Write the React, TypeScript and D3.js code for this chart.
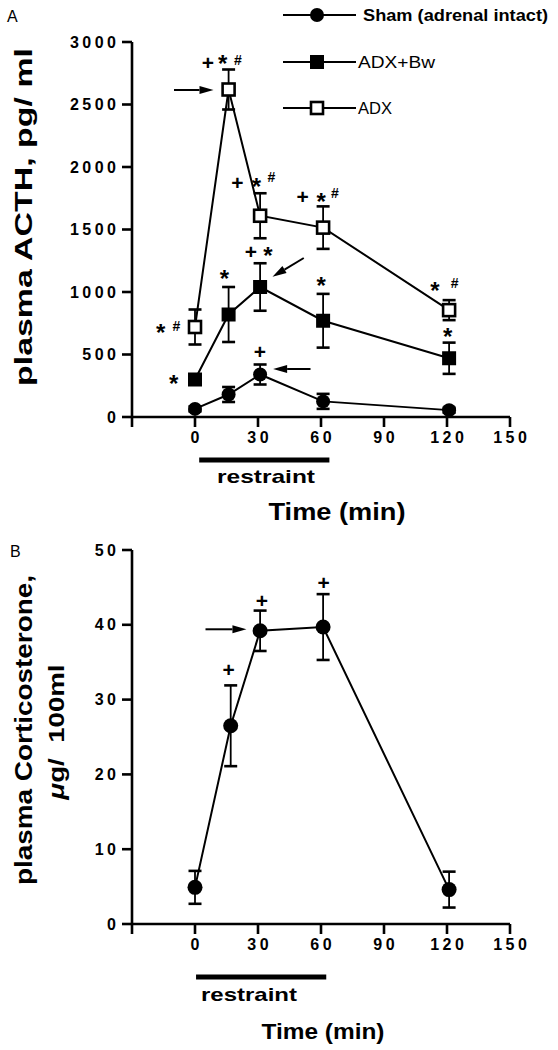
import React from "react";
import * as d3 from "d3";

// ---------- data ----------
const TIMES_A = [0, 16, 31, 61, 121];
const SHAM_A = [65, 180, 340, 125, 55];
const SHAM_A_ERR = [20, 60, 80, 60, 20];
const ADXBW_A = [300, 820, 1040, 770, 470];
const ADXBW_A_ERR = [30, 220, 190, 215, 125];
const ADX_A = [720, 2620, 1610, 1515, 855];
const ADX_A_ERR = [140, 160, 180, 170, 80];

const TIMES_B = [0, 17, 31, 61, 121];
const CORT_B = [4.9, 26.5, 39.2, 39.7, 4.6];
const CORT_B_ERR = [2.2, 5.4, 2.7, 4.4, 2.4];

const X_TICKS = [0, 30, 60, 90, 120, 150];
const Y_TICKS_A = [0, 500, 1000, 1500, 2000, 2500, 3000];
const Y_TICKS_B = [0, 10, 20, 30, 40, 50];
const RESTRAINT_A = [2, 64];
const RESTRAINT_B = [0.5, 62.5];

const LEGEND = ["Sham (adrenal intact)", "ADX+Bw", "ADX"];

// significance symbols (time, value, glyph)
const MARKS_A: [number, number, string][] = [
  [6.1, 2840, "+"], [13.2, 2872, "*"], [20.4, 2856, "#"],
  [20.2, 1880, "+"], [29.2, 1888, "*"], [36.4, 1920, "#"],
  [51.3, 1768, "+"], [60.1, 1768, "*"], [66.6, 1792, "#"],
  [114.2, 1056, "*"], [123.7, 1072, "#"],
  [-16.3, 720, "*"], [-8.9, 728, "#"],
  [14, 1152, "*"], [26.6, 1328, "+"], [34.7, 1336, "*"],
  [60.1, 1096, "*"], [120.3, 682, "*"], [-10.2, 312, "*"],
  [30.9, 522, "+"],
];
const ARROWS_A: [number, number, number, number][] = [
  [-10, 2616, 8.8, 2616],
  [51.8, 1272, 36.9, 1122],
  [55, 384, 37.2, 384],
];
const MARKS_B: [number, number, string][] = [
  [16, 34, "+"], [31.8, 43.3, "+"], [61.3, 45.7, "+"],
];
const ARROWS_B: [number, number, number, number][] = [[5, 39.4, 24.5, 39.4]];

// ---------- scales ----------
const xA = d3.scaleLinear().domain([-30, 150]).range([132, 510]);
const yA = d3.scaleLinear().domain([0, 3000]).range([417, 42]);
const xB = d3.scaleLinear().domain([-30, 150]).range([132, 510]);
const yB = d3.scaleLinear().domain([0, 50]).range([924, 550]);

const FONT = "'Liberation Sans', Arial, Helvetica, sans-serif";

function Arrow({ x1, y1, x2, y2 }: { x1: number; y1: number; x2: number; y2: number }) {
  const ang = Math.atan2(y2 - y1, x2 - x1);
  const L = 14, W = 4;
  const bx = x2 - L * Math.cos(ang), by = y2 - L * Math.sin(ang);
  const px = -Math.sin(ang) * W, py = Math.cos(ang) * W;
  return (
    <g>
      <line x1={x1} y1={y1} x2={bx} y2={by} stroke="#000" strokeWidth={2} />
      <path d={`M${x2},${y2}L${bx + px},${by + py}L${bx - px},${by - py}Z`} fill="#000" />
    </g>
  );
}

function Mark({ x, y, g }: { x: number; y: number; g: string }) {
  const size = g === "+" ? 21 : g === "*" ? 24 : 14;
  const dy = g === "*" ? 5 : 0;
  return (
    <text x={x} y={y + dy} textAnchor="middle" dominantBaseline="central"
      fontFamily={FONT} fontWeight="bold" fontSize={size}>{g}</text>
  );
}

function ErrBar({ x, y1, y2, cap }: { x: number; y1: number; y2: number; cap: number }) {
  return (
    <g stroke="#000">
      <line x1={x} x2={x} y1={y1} y2={y2} strokeWidth={1.8} />
      <line x1={x - cap / 2} x2={x + cap / 2} y1={y1} y2={y1} strokeWidth={2.6} />
      <line x1={x - cap / 2} x2={x + cap / 2} y1={y2} y2={y2} strokeWidth={2.6} />
    </g>
  );
}

function Axes({ x, y, yTicks }: any) {
  const [x0, x1] = x.range();
  const [yb, yt] = y.range();
  const sp = 3.5;
  return (
    <g fontFamily={FONT} fontWeight="bold">
      <line x1={x0} x2={x0} y1={yb + 1} y2={yt} stroke="#000" strokeWidth={2.6} />
      <line x1={x0 - 1} x2={x1} y1={yb} y2={yb} stroke="#000" strokeWidth={2.6} />
      {yTicks.map((t: number) => (
        <g key={"y" + t}>
          <line x1={x0 - 10} x2={x0} y1={y(t)} y2={y(t)} stroke="#000" strokeWidth={2.6} />
          <text x={x0 - 16 + sp} y={y(t)} textAnchor="end" dominantBaseline="central"
            fontSize={16} letterSpacing={sp}>{t}</text>
        </g>
      ))}
      {[-30, ...X_TICKS].map((t) => (
        <line key={"xt" + t} x1={x(t)} x2={x(t)} y1={yb} y2={yb + 10} stroke="#000" strokeWidth={2.6} />
      ))}
      {X_TICKS.map((t) => (
        <text key={"xl" + t} x={x(t) + sp / 2} y={yb + 26} textAnchor="middle"
          fontSize={16} letterSpacing={sp}>{t}</text>
      ))}
    </g>
  );
}

export default function App() {
  const lineA = (xs: number[], vs: number[]) =>
    d3.line<number>().x((_, i) => xA(xs[i])).y((v) => yA(v))(vs) as string;
  const lineB = d3.line<number>().x((_, i) => xB(TIMES_B[i])).y((v) => yB(v))(CORT_B) as string;

  const series = [
    { vals: ADX_A, err: ADX_A_ERR, kind: "open" },
    { vals: ADXBW_A, err: ADXBW_A_ERR, kind: "square" },
    { vals: SHAM_A, err: SHAM_A_ERR, kind: "circle" },
  ];

  const marker = (kind: string, cx: number, cy: number, key: string) => {
    if (kind === "circle") return <circle key={key} cx={cx} cy={cy} r={7} fill="#000" />;
    if (kind === "square") return <rect key={key} x={cx - 7} y={cy - 7} width={14} height={14} fill="#000" />;
    return <rect key={key} x={cx - 6} y={cy - 6} width={12} height={12} fill="#fff" stroke="#000" strokeWidth={2.6} />;
  };

  const legendY = [15, 62, 108];
  const legendKinds = ["circle", "square", "open"];
  const legendLen = [185, 77, 34];

  return (
    <svg width={558} height={1050} style={{ position: "absolute", left: 0, top: 0, background: "#fff" }}>
      <rect width={558} height={1050} fill="#fff" />
      {/* Panel A */}
      <text x={7} y={22} fontFamily={FONT} fontSize={16}>A</text>
      {LEGEND.map((name, i) => (
        <g key={name}>
          <line x1={283} x2={356} y1={legendY[i]} y2={legendY[i]} stroke="#000" strokeWidth={2} />
          {marker(legendKinds[i], 317, legendY[i], "lg" + i)}
          <text x={i === 0 ? 363 : 358} y={legendY[i]} dominantBaseline="central" fontFamily={FONT}
            fontSize={16} fontWeight={i === 0 ? "bold" : "normal"} textLength={legendLen[i]}
            lengthAdjust="spacingAndGlyphs">{name}</text>
        </g>
      ))}
      <Axes x={xA} y={yA} yTicks={Y_TICKS_A} />
      <text transform={`translate(32,217) rotate(-90)`} textAnchor="middle" fontFamily={FONT}
        fontWeight="bold" fontSize={24} textLength={338} lengthAdjust="spacingAndGlyphs">plasma ACTH, pg/ ml</text>

      {series.map((s, si) => (
        <g key={"s" + si}>
          {s.vals.map((v, i) => (
            <ErrBar key={i} x={xA(TIMES_A[i])} y1={yA(v + s.err[i])} y2={yA(v - s.err[i])} cap={13} />
          ))}
          <path d={lineA(TIMES_A, s.vals)} fill="none" stroke="#000" strokeWidth={2} />
          {s.vals.map((v, i) => marker(s.kind, xA(TIMES_A[i]), yA(v), "m" + si + i))}
        </g>
      ))}
      {MARKS_A.map(([t, v, g], i) => <Mark key={"ma" + i} x={xA(t)} y={yA(v)} g={g} />)}
      {ARROWS_A.map(([t1, v1, t2, v2], i) => (
        <Arrow key={"aa" + i} x1={xA(t1)} y1={yA(v1)} x2={xA(t2)} y2={yA(v2)} />
      ))}
      <rect x={xA(RESTRAINT_A[0])} width={xA(RESTRAINT_A[1]) - xA(RESTRAINT_A[0])} y={457.5} height={5} fill="#000" />
      <text x={266} y={483} textAnchor="middle" fontFamily={FONT} fontWeight="bold" fontSize={19}
        textLength={98} lengthAdjust="spacingAndGlyphs">restraint</text>
      <text x={337} y={520} textAnchor="middle" fontFamily={FONT} fontWeight="bold" fontSize={24}
        textLength={137} lengthAdjust="spacingAndGlyphs">Time (min)</text>

      {/* Panel B */}
      <text x={10} y={557} fontFamily={FONT} fontSize={16}>B</text>
      <Axes x={xB} y={yB} yTicks={Y_TICKS_B} />
      <text transform={`translate(32,730) rotate(-90)`} textAnchor="middle" fontFamily={FONT}
        fontWeight="bold" fontSize={23} textLength={310} lengthAdjust="spacingAndGlyphs">plasma Corticosterone,</text>
      <text transform={`translate(64,732) rotate(-90)`} textAnchor="middle" fontFamily={FONT}
        fontWeight="bold" fontSize={22} textLength={135} lengthAdjust="spacingAndGlyphs"
        style={{ whiteSpace: "pre" }}>
        <tspan fontStyle="italic">μ</tspan>{"g/  100ml"}</text>
      {CORT_B.map((v, i) => (
        <ErrBar key={"eb" + i} x={xB(TIMES_B[i])} y1={yB(v + CORT_B_ERR[i])} y2={yB(v - CORT_B_ERR[i])} cap={13} />
      ))}
      <path d={lineB} fill="none" stroke="#000" strokeWidth={2} />
      {CORT_B.map((v, i) => <circle key={"cb" + i} cx={xB(TIMES_B[i])} cy={yB(v)} r={7.5} fill="#000" />)}
      {MARKS_B.map(([t, v, g], i) => <Mark key={"mb" + i} x={xB(t)} y={yB(v)} g={g} />)}
      {ARROWS_B.map(([t1, v1, t2, v2], i) => (
        <Arrow key={"ab" + i} x1={xB(t1)} y1={yB(v1)} x2={xB(t2)} y2={yB(v2)} />
      ))}
      <rect x={xB(RESTRAINT_B[0])} width={xB(RESTRAINT_B[1]) - xB(RESTRAINT_B[0])} y={974.5} height={5} fill="#000" />
      <text x={249} y={1001} textAnchor="middle" fontFamily={FONT} fontWeight="bold" fontSize={19}
        textLength={96} lengthAdjust="spacingAndGlyphs">restraint</text>
      <text x={323} y={1039} textAnchor="middle" fontFamily={FONT} fontWeight="bold" fontSize={22}
        textLength={123} lengthAdjust="spacingAndGlyphs">Time (min)</text>
    </svg>
  );
}
